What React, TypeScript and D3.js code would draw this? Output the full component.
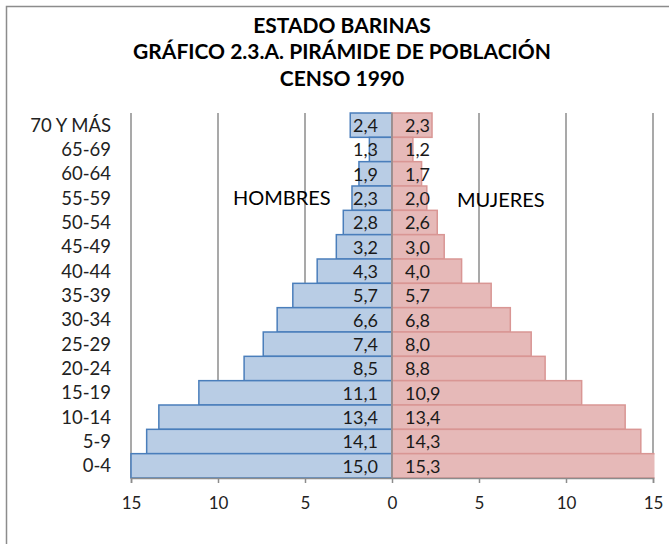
import * as d3 from "d3";
import { useEffect, useRef } from "react";

const ageGroups = ["70 Y MÁS", "65-69", "60-64", "55-59", "50-54", "45-49", "40-44", "35-39", "30-34", "25-29", "20-24", "15-19", "10-14", "5-9", "0-4"];
const hombres = [2.4, 1.3, 1.9, 2.3, 2.8, 3.2, 4.3, 5.7, 6.6, 7.4, 8.5, 11.1, 13.4, 14.1, 15.0];
const mujeres = [2.3, 1.2, 1.7, 2.0, 2.6, 3.0, 4.0, 5.7, 6.8, 8.0, 8.8, 10.9, 13.4, 14.3, 15.3];
const tickValues = [-15, -10, -5, 0, 5, 10, 15];
const titleLines = ["ESTADO BARINAS", "GRÁFICO 2.3.A. PIRÁMIDE DE POBLACIÓN", "CENSO 1990"];

const W = 669;
const H = 544;
const FONT = "Lato, 'Open Sans', sans-serif";

export default function App() {
  const ref = useRef<SVGSVGElement>(null);

  useEffect(() => {
    const svg = d3.select(ref.current);
    svg.selectAll("*").remove();

    // marco del gráfico (el borde derecho queda fuera de la imagen)
    svg.append("rect")
      .attr("x", 6.5).attr("y", 6.5)
      .attr("width", W + 20).attr("height", H + 20)
      .attr("fill", "#fff").attr("stroke", "#8c8c8c").attr("stroke-width", 1.5);

    // título
    svg.append("g").selectAll("text")
      .data(titleLines)
      .enter()
      .append("text")
      .attr("x", 342)
      .attr("y", (d, i) => 32.5 + i * 26.5)
      .attr("text-anchor", "middle")
      .style("font-family", FONT)
      .style("font-weight", "bold")
      .style("font-size", "21px")
      .text(d => d);

    const x = d3.scaleLinear().domain([-15, 15]).range([131, 653]);
    const y = d3.scaleBand().domain(ageGroups).range([113, 478]).paddingInner(0);

    const g = svg.append("g");

    // líneas de cuadrícula
    g.selectAll(".grid")
      .data(tickValues.filter(v => v !== 0))
      .enter()
      .append("line")
      .attr("x1", d => x(d)).attr("x2", d => x(d))
      .attr("y1", 113).attr("y2", 478)
      .attr("stroke", "#8c8c8c").attr("stroke-width", 1.5);

    const clipId = "plot-clip";
    svg.append("defs").append("clipPath").attr("id", clipId)
      .append("rect").attr("x", 130).attr("y", 100).attr("width", 524.5).attr("height", 400);

    const bars = g.append("g").attr("clip-path", `url(#${clipId})`);

    // barras hombres
    bars.selectAll(".h-bar")
      .data(ageGroups)
      .enter()
      .append("rect")
      .attr("x", (d, i) => x(-hombres[i]))
      .attr("y", d => y(d)!)
      .attr("width", (d, i) => x(0) - x(-hombres[i]))
      .attr("height", y.bandwidth())
      .attr("fill", "#b9cde5")
      .attr("stroke", "#4a7ebb").attr("stroke-width", 1.5);

    // barras mujeres
    bars.selectAll(".m-bar")
      .data(ageGroups)
      .enter()
      .append("rect")
      .attr("x", x(0))
      .attr("y", d => y(d)!)
      .attr("width", (d, i) => x(mujeres[i]) - x(0))
      .attr("height", y.bandwidth())
      .attr("fill", "#e6b9b8")
      .attr("stroke", "#d99694").attr("stroke-width", 1.5);

    // eje vertical en cero
    g.append("line")
      .attr("x1", x(0)).attr("x2", x(0))
      .attr("y1", 113).attr("y2", 478)
      .attr("stroke", "#8c8c8c").attr("stroke-width", 1.5);

    // eje X
    const xAxis = g.append("g")
      .attr("transform", "translate(0,478)")
      .call(d3.axisBottom(x).tickValues(tickValues).tickSize(5).tickPadding(14)
        .tickFormat(d => String(Math.abs(+d))));
    xAxis.select(".domain").attr("stroke", "#8c8c8c").attr("stroke-width", 1.5);
    xAxis.selectAll(".tick line").attr("stroke", "#8c8c8c").attr("stroke-width", 1.5);
    xAxis.selectAll("text")
      .attr("fill", "#222")
      .style("font-family", FONT)
      .style("font-size", "17px");

    // etiquetas de categorías
    g.selectAll(".cat")
      .data(ageGroups)
      .enter()
      .append("text")
      .attr("x", 111)
      .attr("y", d => y(d)! + y.bandwidth() / 2)
      .attr("dy", "0.35em")
      .attr("text-anchor", "end")
      .style("font-family", FONT)
      .style("font-size", "18.5px")
      .attr("fill", "#222")
      .text(d => d);

    const fmt = (v: number) => v.toFixed(1).replace(".", ",");

    // valores hombres
    g.selectAll(".h-lab")
      .data(ageGroups)
      .enter()
      .append("text")
      .attr("x", 378)
      .attr("y", d => y(d)! + y.bandwidth() / 2)
      .attr("dy", "0.38em")
      .attr("text-anchor", "end")
      .style("font-family", FONT)
      .style("font-size", "18px")
      .attr("fill", "#1a1a1a")
      .text((d, i) => fmt(hombres[i]));

    // valores mujeres
    g.selectAll(".m-lab")
      .data(ageGroups)
      .enter()
      .append("text")
      .attr("x", 405)
      .attr("y", d => y(d)! + y.bandwidth() / 2)
      .attr("dy", "0.38em")
      .attr("text-anchor", "start")
      .style("font-family", FONT)
      .style("font-size", "18px")
      .attr("fill", "#1a1a1a")
      .text((d, i) => fmt(mujeres[i]));

    // rótulos de sexo
    g.append("text")
      .attr("x", 233).attr("y", 205)
      .style("font-family", FONT).style("font-size", "20px")
      .text("HOMBRES");
    g.append("text")
      .attr("x", 457).attr("y", 207)
      .style("font-family", FONT).style("font-size", "20px")
      .text("MUJERES");
  }, []);

  return (
    <svg ref={ref} width={W} height={H} style={{ position: "absolute", left: 0, top: 0 }}></svg>
  );
}
